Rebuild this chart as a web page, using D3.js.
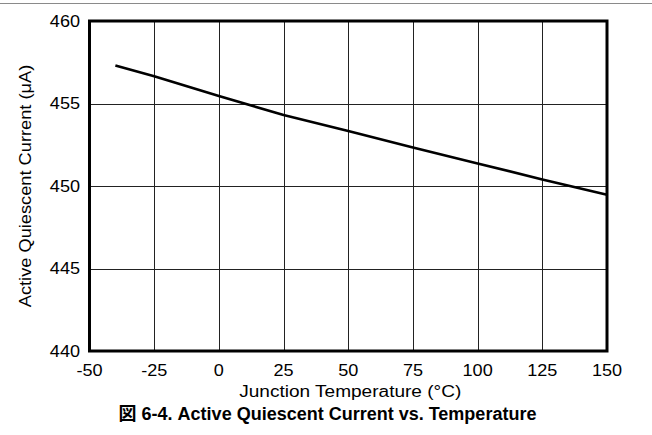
<!DOCTYPE html>
<html>
<head>
<meta charset="utf-8">
<script src="https://cdn.jsdelivr.net/npm/d3@7"></script>
<style>
  html, body { margin: 0; padding: 0; background: #fff; }
  svg { display: block; }
</style>
</head>
<body>
<svg id="chart" width="652" height="435"></svg>
<script>
const temperatures = [-40, -25, 0, 25, 50, 75, 100, 125, 150];
const currents = [457.3, 456.65, 455.45, 454.3, 453.33, 452.34, 451.37, 450.4, 449.47];
const xTicks = [-50, -25, 0, 25, 50, 75, 100, 125, 150];
const yTicks = [440, 445, 450, 455, 460];
const xTitle = "Junction Temperature (°C)";
const yTitle = "Active Quiescent Current (μA)";
const chartTitle = "図 6-4. Active Quiescent Current vs. Temperature";

const font = "'Liberation Sans', Arial, 'Noto Sans CJK JP', sans-serif";
const svg = d3.select("#chart");
const W = 652, H = 435;
const m = { left: 89.5, right: 607, top: 21, bottom: 351 };
const stretch = 1.13;

const x = d3.scaleLinear().domain([-50, 150]).range([m.left, m.right]);
const y = d3.scaleLinear().domain([440, 460]).range([m.bottom, m.top]);
const fmt = d => String(d);

// top page rule
svg.append("line").attr("x1", 0).attr("x2", W).attr("y1", 3.5).attr("y2", 3.5)
  .attr("stroke", "#8a8a8a").attr("stroke-width", 1);

// grid
const grid = svg.append("g");
grid.selectAll("line.v").data(xTicks.slice(1, -1)).enter().append("line")
  .attr("x1", d => Math.round(x(d)) + 0.5).attr("x2", d => Math.round(x(d)) + 0.5)
  .attr("y1", m.top).attr("y2", m.bottom)
  .attr("stroke", "#222").attr("stroke-width", 1);
grid.selectAll("line.h").data(yTicks.slice(1, -1)).enter().append("line")
  .attr("y1", d => Math.round(y(d)) + 0.5).attr("y2", d => Math.round(y(d)) + 0.5)
  .attr("x1", m.left).attr("x2", m.right)
  .attr("stroke", "#222").attr("stroke-width", 1);

// data line
const line = d3.line().x((d, i) => x(temperatures[i])).y(d => y(d));
svg.append("path").datum(currents).attr("d", line)
  .attr("fill", "none").attr("stroke", "#000").attr("stroke-width", 2.6)
  .attr("stroke-linejoin", "round");

// frame
svg.append("rect").attr("x", m.left).attr("y", m.top)
  .attr("width", m.right - m.left).attr("height", m.bottom - m.top)
  .attr("fill", "none").attr("stroke", "#000").attr("stroke-width", 3);

// x tick labels
svg.append("g").selectAll("text").data(xTicks).enter().append("text")
  .attr("transform", d => `translate(${x(d)},375.5) scale(${stretch},1)`)
  .attr("text-anchor", "middle").style("font-family", font).style("font-size", "16px")
  .attr("fill", "#000").text(fmt);

// y tick labels
svg.append("g").selectAll("text").data(yTicks).enter().append("text")
  .attr("transform", d => `translate(80,${y(d)}) scale(${stretch},1)`)
  .attr("dy", "0.36em")
  .attr("text-anchor", "end").style("font-family", font).style("font-size", "16px")
  .attr("fill", "#000").text(fmt);

svg.append("text")
  .attr("transform", `translate(${(m.left + m.right) / 2 + 2},396.5) scale(1.19,1)`)
  .attr("text-anchor", "middle").style("font-family", font).style("font-size", "16px")
  .text(xTitle);

svg.append("text").attr("transform", `translate(31,${(m.top + m.bottom) / 2}) rotate(-90) scale(1.14,1)`)
  .attr("text-anchor", "middle").style("font-family", font).style("font-size", "16px")
  .text(yTitle);

svg.append("text").attr("x", 327.5).attr("y", 420)
  .attr("text-anchor", "middle").style("font-family", font).style("font-size", "18px")
  .style("font-weight", "bold").text(chartTitle);
</script>
</body>
</html>
